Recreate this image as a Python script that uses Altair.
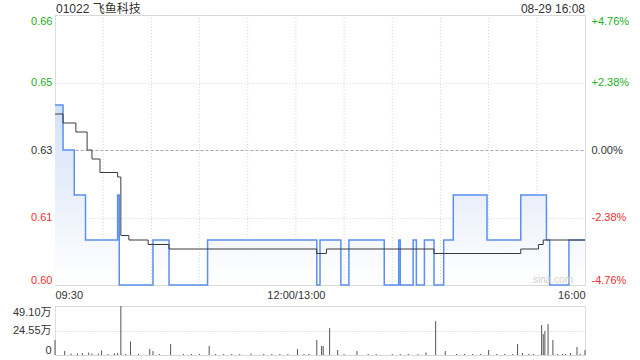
import altair as alt
import pandas as pd

# ---------------- data ----------------
title_left = "01022 飞鱼科技"
title_right = "08-29 16:08"
watermark = "sina.com"

# minutes since 09:30 (morning 0-150, afternoon 150-330), price change points
price_t = [0, 5, 12, 19, 39, 40, 61, 71, 95, 163, 165, 178, 183, 205, 214, 215, 223, 225, 230, 236, 242, 248, 269, 290, 306, 308, 320, 330]
price_v = [0.64, 0.63, 0.62, 0.61, 0.62, 0.60, 0.61, 0.60, 0.61, 0.60, 0.61, 0.60, 0.61, 0.60, 0.61, 0.60, 0.61, 0.60, 0.61, 0.60, 0.61, 0.62, 0.61, 0.62, 0.61, 0.60, 0.61, 0.61]

avg_t = [0, 5, 13, 20, 23, 28, 39, 41, 46, 58, 71, 163, 169, 236, 290, 301, 304, 330]
avg_v = [0.638, 0.636, 0.634, 0.630, 0.628, 0.625, 0.624, 0.611, 0.610, 0.609, 0.608, 0.607, 0.608, 0.607, 0.608, 0.609, 0.610, 0.610]

# volume in 万股
vol_t = [0, 6, 10, 14, 17, 21, 23, 27, 29, 33, 37, 39, 41, 44, 47, 52, 59, 61, 65, 72,
         80, 85, 90, 96, 100, 105, 110, 115, 122, 130, 135, 140, 145, 151, 155, 158, 163, 166, 167, 171,
         176, 180, 188, 195, 200, 210, 215, 220, 226, 231, 237, 243, 250, 255, 260, 265, 270, 275, 280, 285,
         288, 291, 295, 298, 303, 304, 305, 307, 310, 313, 316, 318, 321, 325, 327, 330]
vol_v = [15, 4, 1.5, 1.5, 2, 2.5, 1.5, 1.5, 4.5, 1, 1.5, 2, 49.1, 1, 13.5, 1, 6, 4, 1, 11,
         1, 1, 1, 9, 1, 1, 1, 1, 1.5, 1, 1, 1, 1, 6, 1, 1, 15, 9, 9, 27,
         5, 1, 4, 1, 1, 1, 1, 1, 1, 2.5, 34, 4, 1, 1, 1, 1, 5, 1, 1, 1,
         11, 2, 1, 1, 30, 21, 24, 31, 15, 1, 1, 1, 2, 8, 1, 5]

base_price = 0.63
price_ticks = [0.60, 0.615, 0.63, 0.645, 0.66]
price_tick_labels = ["0.60", "0.61", "0.63", "0.65", "0.66"]
pct_tick_labels = ["-4.76%", "-2.38%", "0.00%", "+2.38%", "+4.76%"]
time_ticks = [0, 150, 330]
time_tick_labels = ["09:30", "12:00/13:00", "16:00"]
grid_minutes = [30, 60, 90, 120, 150, 180, 210, 240, 270, 300]
vol_ticks = [0, 24.55, 49.10]
vol_tick_labels = ["0", "24.55万", "49.10万"]

# ---------------- helpers ----------------
GREEN = "#22b022"
RED = "#f03030"
DARK = "#333333"
FONT = "Liberation Sans, Noto Sans CJK SC, sans-serif"


def label_expr(ticks, labels):
    expr = f"'{labels[-1]}'"
    for t, l in reversed(list(zip(ticks[:-1], labels[:-1]))):
        expr = f"abs(datum.value - {t}) < 1e-6 ? '{l}' : " + expr
    return expr


label_color = {
    "condition": [
        {"test": f"datum.value > {base_price} + 1e-6", "value": GREEN},
        {"test": f"datum.value < {base_price} - 1e-6", "value": RED},
    ],
    "value": DARK,
}
zero_test = f"abs(datum.value - {base_price}) < 1e-6"

price_df = pd.DataFrame({"t": price_t, "p": price_v})
avg_df = pd.DataFrame({"t": avg_t, "a": avg_v})
vol_df = pd.DataFrame({"t": vol_t, "v": vol_v})
grid_df = pd.DataFrame({"t": grid_minutes})

x_scale = alt.Scale(domain=[0, 330], nice=False, zero=False)
y_scale = alt.Scale(domain=[0.60, 0.66], nice=False, zero=False)

x_axis = alt.Axis(values=time_ticks, labelExpr=label_expr(time_ticks, time_tick_labels),
                  labelFlush=True, grid=False, domain=False, ticks=False, labelPadding=4,
                  labelFontSize=11, labelColor=DARK, labelFont=FONT, title=None)
x_enc = alt.X("t:Q", scale=x_scale, axis=x_axis)

y_left = alt.Axis(values=price_ticks, labelExpr=label_expr(price_ticks, price_tick_labels),
                  labelFlush=True, domain=False, ticks=False, labelPadding=3,
                  labelFontSize=11, labelFont=FONT, labelColor=label_color,
                  grid=True,
                  gridColor={"condition": {"test": zero_test, "value": "#a8a8a8"}, "value": "#d0d0d0"},
                  gridDash={"condition": {"test": zero_test, "value": [3, 2]}, "value": [1, 2]},
                  minExtent=50, maxExtent=50, title=None)
y_right = alt.Axis(orient="right", values=price_ticks, labelExpr=label_expr(price_ticks, pct_tick_labels),
                   labelFlush=True, domain=False, ticks=False, labelPadding=6, grid=False,
                   labelFontSize=11, labelFont=FONT, labelColor=label_color, title=None)

gradient = alt.Gradient(gradient="linear",
                        stops=[alt.GradientStop(color="#d3e1f7", offset=0),
                               alt.GradientStop(color="#ffffff", offset=1)],
                        x1=1, x2=1, y1=0, y2=1)

vgrid = alt.Chart(grid_df).mark_rule(color="#d5d5d5", strokeDash=[1, 2], strokeWidth=1).encode(x=x_enc)

area = alt.Chart(price_df).mark_area(interpolate="step-after", color=gradient).encode(
    x=x_enc, y=alt.Y("p:Q", scale=y_scale, axis=y_left), y2=alt.datum(0.60))

line = alt.Chart(price_df).mark_line(interpolate="step-after", color="#5b8ff0", strokeWidth=1.5).encode(
    x=x_enc, y=alt.Y("p:Q", scale=y_scale, axis=None))

avg = alt.Chart(avg_df).mark_line(interpolate="step-after", color="#3a3a3a", strokeWidth=1).encode(
    x=x_enc, y=alt.Y("a:Q", scale=y_scale, axis=y_right))

wm = alt.Chart(pd.DataFrame({"s": [watermark]})).mark_text(
    align="center", baseline="middle", fontSize=10, color="#cfcfcf", font=FONT).encode(
    x=alt.value(498), y=alt.value(265), text="s:N")

tl = alt.Chart(pd.DataFrame({"s": [title_left]})).mark_text(
    align="left", baseline="alphabetic", fontSize=12, color=DARK, font=FONT).encode(
    x=alt.value(1), y=alt.value(-2), text="s:N")

tr = alt.Chart(pd.DataFrame({"s": [title_right]})).mark_text(
    align="right", baseline="alphabetic", fontSize=12, color=DARK, font=FONT).encode(
    x=alt.value(530), y=alt.value(-2), text="s:N")

price_chart = alt.layer(vgrid, area, line, avg, wm, tl, tr).resolve_axis(y="independent").properties(
    width=530, height=270)

vol_axis = alt.Axis(values=vol_ticks, labelExpr=label_expr(vol_ticks, vol_tick_labels),
                    labelFlush=True, domain=False, ticks=False, labelPadding=4,
                    labelFontSize=11, labelFont=FONT, labelColor=DARK,
                    grid=True, gridColor="#cfcfcf", gridDash=[1, 2],
                    minExtent=50, maxExtent=50, title=None)

vol_chart = alt.Chart(vol_df).mark_rule(color="#555555", strokeWidth=1).encode(
    x=alt.X("t:Q", scale=x_scale, axis=None),
    y=alt.Y("v:Q", scale=alt.Scale(domain=[0, 49.1], nice=False, zero=True), axis=vol_axis),
    y2=alt.datum(0)).properties(width=530, height=49)

chart = alt.vconcat(price_chart, vol_chart, spacing=4).properties(
    padding={"left": 4, "top": 2, "right": 0, "bottom": 0},
    background="white").configure_view(stroke="#c8c8c8").configure(font=FONT)

chart.save("out.html", embed_options={"renderer": "svg", "actions": False})
